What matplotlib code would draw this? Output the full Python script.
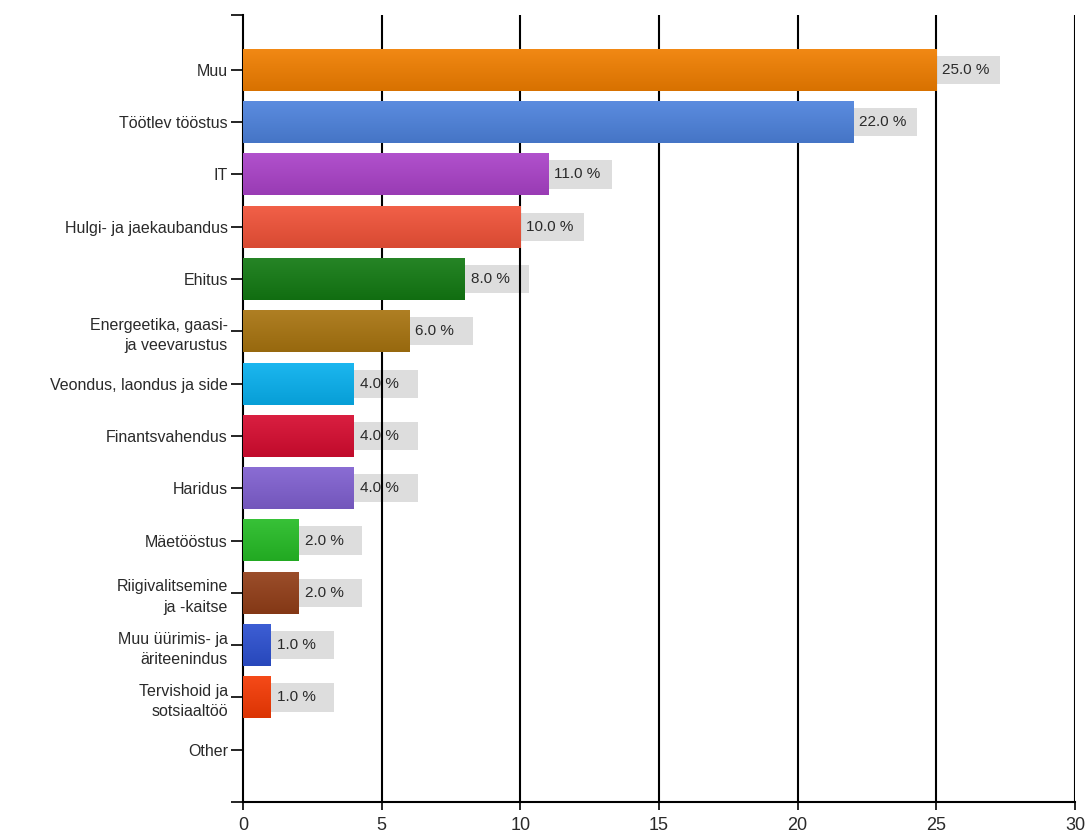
import matplotlib
matplotlib.use("Agg")
import matplotlib.pyplot as plt
import numpy as np
from matplotlib.colors import to_rgb
from matplotlib.patches import Rectangle

plt.rcParams["font.family"] = ["Liberation Sans", "DejaVu Sans"]

# sectors, top to bottom
sectors = [
    "Muu", "Töötlev tööstus", "IT", "Hulgi- ja jaekaubandus", "Ehitus",
    "Energeetika, gaasi-\nja veevarustus", "Veondus, laondus ja side",
    "Finantsvahendus", "Haridus", "Mäetööstus", "Riigivalitsemine\nja -kaitse",
    "Muu üürimis- ja\näriteenindus", "Tervishoid ja\nsotsiaaltöö", "Other",
]
shares = [25.0, 22.0, 11.0, 10.0, 8.0, 6.0, 4.0, 4.0, 4.0, 2.0, 2.0, 1.0, 1.0, 0.0]
bar_colors = [
    "#F07E00", "#4D82DC", "#AA42C8", "#F05238", "#137A13", "#A87410", "#08B0EE",
    "#D60C30", "#8060D0", "#26BC26", "#923E18", "#2C50D0", "#F43A04", "#888888",
]

TXT = "#2A2A2A"


def shade(color, f):
    r = np.array(to_rgb(color))
    if f >= 0:
        return r + (1 - r) * f
    return r * (1 + f)


def gradient_bar(ax, y, width, height, color):
    if width <= 0:
        return
    top = shade(color, 0.08)
    bot = shade(color, -0.10)
    t = np.linspace(0, 1, 64)[:, None]
    img = top[None, :] * (1 - t[:, :, None]) + bot[None, :] * t[:, :, None]
    img = np.repeat(img, 2, axis=1)
    ax.imshow(img, extent=(0, width, y + height / 2, y - height / 2),
              aspect="auto", interpolation="bilinear", zorder=3)


fig = plt.figure(figsize=(10.89, 8.34), dpi=100)
ax = fig.add_axes([0.2231, 0.0384, 0.7640, 0.9436])

pos = np.arange(1, len(sectors) + 1)
for y, v, c in zip(pos, shares, bar_colors):
    gradient_bar(ax, y, v, 0.8, c)
    if v > 0:
        ax.add_patch(Rectangle((v, y - 0.27), 2.3, 0.54, facecolor="#DDDDDD",
                               edgecolor="none", zorder=1))
        ax.text(v + 0.22, y, f"{v:.1f} %", va="center", ha="left",
                fontsize=11, color=TXT, zorder=4)

ax.set_xlim(0, 30)
ax.set_ylim(15, -0.05)
ax.set_xticks(range(0, 31, 5))
ax.set_yticks([-0.05] + list(pos) + [15])
ax.set_yticklabels([""] + sectors + [""], fontsize=11.5, color=TXT,
                   linespacing=1.45)
ax.tick_params(axis="y", length=8.6, width=1.2, pad=2.2, color="black")
ax.tick_params(axis="x", length=6, width=1.2, pad=5, labelsize=13,
               labelcolor=TXT)

for x in range(5, 31, 5):
    ax.axvline(x, color="black", lw=1.5, zorder=2)

ax.spines[["top", "right"]].set_visible(False)
ax.spines["left"].set_linewidth(1.5)
ax.spines["bottom"].set_linewidth(1.5)
ax.set_axisbelow(False)

fig.savefig("out.png", dpi=100, facecolor="white")
